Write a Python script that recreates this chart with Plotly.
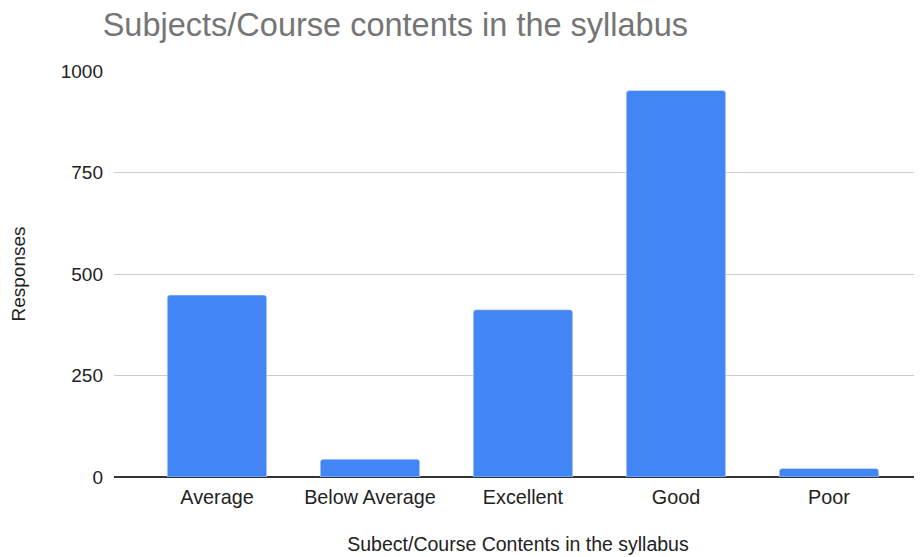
import plotly.graph_objects as go

categories = ["Average", "Below Average", "Excellent", "Good", "Poor"]
responses = [448, 44, 412, 952, 21]
y_ticks = [0, 250, 500, 750, 1000]

fig = go.Figure(go.Bar(
    x=categories, y=responses, marker_color="#4285F4", width=0.65,
))

fig.update_layout(
    width=914, height=549,
    margin=dict(l=106, r=0, t=63, b=80),
    paper_bgcolor="white", plot_bgcolor="white",
    font=dict(family="Liberation Sans, Arial, sans-serif", size=19, color="#222222"),
    barcornerradius=3,
    title=dict(text="Subjects/Course contents in the syllabus", x=0.1036, xanchor="left",
               y=0.969, yanchor="middle",
               font=dict(size=32.5, color="#757575")),
    showlegend=False,
)
fig.update_xaxes(
    type="category", range=[-0.673, 4.608], showgrid=False, showline=False,
    ticks="", tickfont=dict(size=19.8), ticklabelstandoff=6,
    title=dict(text="Subect/Course Contents in the syllabus", font=dict(size=19.5), standoff=30),
)
fig.update_yaxes(
    range=[0, 1000], tickvals=y_ticks, showgrid=True, gridcolor="#cccccc", gridwidth=1,
    zeroline=True, zerolinecolor="#333333", zerolinewidth=1.5,
    ticks="", ticklabelstandoff=10, tickfont=dict(size=19),
    title=dict(text="Responses", font=dict(size=19), standoff=30),
)

fig.write_html("out.html")
